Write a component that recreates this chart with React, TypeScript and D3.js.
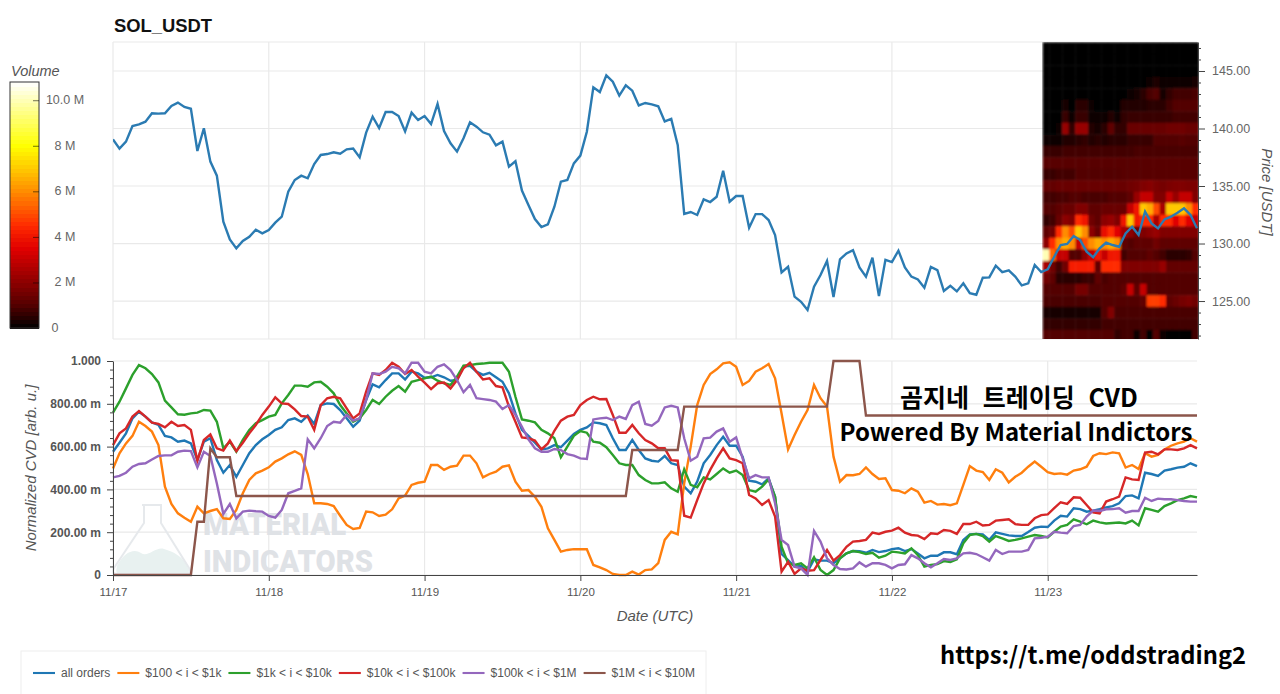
import React, { useEffect, useRef } from 'react';
import * as d3 from 'd3';

const dayTicks = [0, 24, 48, 72, 96, 120, 144];
const dayLabels = ['11/17', '11/18', '11/19', '11/20', '11/21', '11/22', '11/23'];

const priceTicks = [125, 130, 135, 140, 145];
const priceMinorTicks = [122, 123, 124, 126, 127, 128, 129, 131, 132, 133, 134, 136, 137, 138, 139, 141, 142, 143, 144, 146, 147];
const cvdTicks = [0, 200, 400, 600, 800, 1000];
const cvdMinorTicks = [40, 80, 120, 160, 240, 280, 320, 360, 440, 480, 520, 560, 640, 680, 720, 760, 840, 880, 920, 960];
const volumeTicks = [0, 2, 4, 6, 8, 10];
const volumeLabels = ['0', '2 M', '4 M', '6 M', '8 M', '10.0 M'];

const price = [
  139.06, 138.25, 138.86, 140.22, 140.36, 140.59, 141.32, 141.29, 141.32, 141.96, 142.25, 141.87,
  141.72, 138.04, 140.02, 137.12, 135.9, 131.9, 130.36, 129.58, 130.22, 130.59, 131.2, 130.88,
  131.17, 131.81, 132.33, 134.51, 135.52, 135.9, 135.67, 136.91, 137.7, 137.78, 137.93, 137.81,
  138.19, 138.25, 137.49, 139.64, 141.03, 140.04, 141.43, 141.43, 141.09, 139.75, 141.38, 140.74,
  141.09, 140.39, 142.13, 139.78, 138.71, 137.99, 139.15, 140.54, 140.16, 139.67, 139.46, 138.54,
  138.86, 136.68, 137.15, 134.6, 133.35, 132.13, 131.43, 131.67, 133.2, 135.38, 135.52, 136.97,
  137.64, 139.72, 143.58, 143.17, 144.62, 144.07, 142.86, 143.75, 143.29, 142.01, 142.22, 142.1,
  141.93, 140.62, 140.83, 138.57, 132.57, 132.74, 132.48, 133.84, 133.61, 134.07, 136.33, 133.64,
  134.13, 134.13, 131.38, 132.56, 132.56, 132.04, 130.74, 127.49, 127.98, 125.38, 124.94, 124.22,
  126.25, 127.26, 128.48, 125.35, 128.62, 129.14, 129.43, 127.93, 127.12, 128.77, 125.43, 128.59,
  128.39, 129.38, 127.93, 127.12, 126.88, 126.16, 127.96, 127.69, 125.87, 126.33, 125.84, 126.54,
  125.69, 125.55, 127.03, 127.06, 128.07, 127.52, 127.67, 127.12, 126.36, 126.54, 128.13, 127.52,
  127.75, 128.85, 129.87, 129.96, 130.65, 130.3, 129.29, 128.8, 129.58, 130.07, 129.87, 129.72,
  130.88, 131.46, 130.74, 132.77, 131.75, 131.32, 132.1, 132.33, 132.68, 133.06, 132.48, 131.32,
];

const allOrders = [
  576, 618, 662, 732, 763, 740, 713, 701, 650, 643, 623, 628, 615, 537, 623, 639, 537, 478, 514, 459, 514, 569, 607, 634,
  654, 678, 690, 724, 732, 716, 745, 706, 794, 802, 799, 771, 732, 693, 721, 818, 891, 877, 911, 942, 942, 914, 950, 942,
  922, 924, 935, 924, 908, 911, 974, 977, 950, 935, 945, 924, 903, 849, 755, 678, 650, 618, 587, 592, 607, 597, 628, 659,
  678, 690, 713, 709, 701, 639, 584, 584, 631, 584, 545, 534, 530, 556, 522, 514, 413, 382, 436, 522, 561, 607, 646, 604,
  604, 553, 441, 436, 424, 452, 366, 98, 70, 39, 42, 16, 73, 67, 67, 55, 78, 101, 112, 111, 104, 117, 107, 112,
  121, 125, 112, 121, 101, 78, 90, 90, 106, 106, 97, 164, 190, 192, 190, 164, 199, 192, 185, 182, 182, 201, 221, 226,
  224, 254, 277, 273, 312, 308, 296, 301, 308, 316, 322, 335, 369, 372, 358, 478, 472, 463, 488, 494, 502, 506, 522, 509,
];
const tier100to1k = [
  498, 569, 615, 650, 716, 696, 670, 607, 413, 332, 288, 268, 249, 319, 288, 299, 308, 265, 262, 304, 382, 444, 475, 488,
  503, 530, 545, 564, 578, 561, 472, 335, 335, 332, 322, 277, 234, 215, 220, 296, 293, 276, 282, 307, 358, 371, 421, 431,
  436, 514, 514, 491, 506, 511, 558, 558, 522, 456, 472, 483, 506, 512, 436, 394, 397, 366, 319, 218, 164, 109, 117, 121,
  120, 120, 47, 36, 23, 5, 0, 0, 16, 2, 23, 26, 55, 164, 202, 190, 428, 600, 794, 888, 939, 961, 989, 994,
  973, 888, 907, 950, 966, 986, 919, 755, 587, 654, 716, 771, 888, 826, 787, 553, 436, 467, 466, 472, 503, 472, 449, 452,
  397, 394, 382, 405, 389, 338, 346, 329, 332, 326, 335, 421, 509, 488, 481, 444, 494, 478, 433, 459, 478, 506, 530, 506,
  481, 472, 475, 469, 488, 494, 506, 556, 569, 565, 573, 569, 502, 514, 495, 569, 553, 561, 587, 604, 615, 623, 639, 623,
];
const tier1kto10k = [
  759, 810, 872, 935, 981, 966, 939, 900, 815, 783, 751, 749, 755, 759, 771, 768, 716, 592, 623, 576, 631, 678, 709, 724,
  740, 748, 802, 841, 885, 885, 880, 900, 903, 880, 849, 794, 755, 716, 732, 771, 818, 799, 833, 861, 883, 857, 903, 911,
  919, 927, 908, 896, 888, 927, 978, 981, 986, 988, 992, 992, 992, 950, 833, 727, 721, 713, 678, 662, 639, 550, 600, 650,
  673, 665, 623, 618, 597, 561, 522, 514, 514, 467, 444, 428, 428, 433, 405, 389, 494, 421, 410, 456, 447, 472, 498, 478,
  488, 467, 397, 389, 413, 447, 366, 132, 55, 47, 55, 31, 83, 23, 0, 23, 78, 101, 112, 107, 98, 104, 81, 90,
  109, 106, 101, 125, 93, 39, 47, 51, 65, 61, 73, 148, 187, 192, 182, 156, 182, 171, 159, 164, 171, 179, 187, 182,
  176, 202, 226, 234, 260, 249, 237, 254, 246, 241, 243, 245, 241, 254, 232, 312, 304, 296, 322, 335, 350, 358, 369, 363,
];
const tier10kto100k = [
  607, 662, 685, 740, 766, 740, 712, 706, 690, 716, 696, 701, 678, 534, 631, 657, 592, 581, 628, 579, 618, 662, 701, 748,
  787, 830, 802, 799, 774, 743, 740, 678, 794, 826, 833, 826, 779, 732, 755, 857, 942, 935, 958, 992, 973, 939, 958, 927,
  899, 869, 896, 899, 872, 911, 966, 992, 950, 914, 919, 883, 877, 787, 716, 643, 639, 628, 587, 615, 674, 721, 740, 748,
  794, 818, 833, 821, 822, 748, 665, 665, 701, 662, 631, 615, 592, 592, 537, 534, 277, 268, 350, 428, 491, 545, 592, 545,
  537, 522, 374, 358, 327, 350, 273, 16, 62, 5, 31, 20, 23, 70, 117, 67, 93, 132, 156, 159, 164, 198, 192, 202,
  207, 221, 198, 187, 184, 168, 195, 192, 210, 206, 192, 238, 238, 249, 231, 234, 254, 257, 260, 238, 234, 234, 265, 280,
  283, 312, 340, 332, 363, 361, 327, 293, 288, 343, 354, 366, 456, 447, 444, 572, 576, 564, 587, 587, 584, 592, 607, 592,
];
const tier100kto1M = [
  456, 463, 478, 506, 519, 522, 540, 556, 559, 559, 576, 581, 579, 503, 576, 556, 428, 285, 332, 265, 296, 301, 298, 296,
  276, 268, 304, 382, 393, 405, 634, 592, 639, 696, 716, 712, 748, 721, 732, 818, 942, 939, 950, 973, 966, 942, 992, 992,
  950, 942, 973, 984, 958, 911, 854, 888, 826, 822, 818, 810, 776, 794, 748, 693, 634, 592, 576, 576, 589, 584, 565, 558,
  545, 542, 727, 732, 735, 724, 740, 729, 794, 810, 706, 698, 720, 783, 791, 783, 639, 534, 553, 639, 642, 670, 685, 623,
  643, 545, 452, 467, 456, 456, 335, 164, 140, 39, 31, 0, 206, 156, 78, 47, 28, 26, 31, 59, 39, 55, 55, 47,
  31, 47, 50, 93, 78, 55, 36, 55, 75, 70, 78, 101, 104, 98, 83, 67, 117, 98, 109, 109, 109, 117, 171, 174,
  179, 202, 198, 195, 229, 234, 273, 301, 299, 307, 308, 312, 291, 299, 299, 361, 346, 357, 354, 354, 350, 346, 343, 343,
];
const tier1Mto10M = [
  0, 0, 0, 0, 0, 0, 0, 0, 0, 0, 0, 0, 0, 249, 249, 592, 550, 550, 550, 369, 369, 369, 369, 369,
  369, 369, 369, 369, 369, 369, 369, 369, 369, 369, 369, 369, 369, 369, 369, 369, 369, 369, 369, 369, 369, 369, 369, 369,
  369, 369, 369, 369, 369, 369, 369, 369, 369, 369, 369, 369, 369, 369, 369, 369, 369, 369, 369, 369, 369, 369, 369, 369,
  369, 369, 369, 369, 369, 369, 369, 369, 584, 584, 584, 584, 584, 584, 584, 584, 787, 787, 787, 787, 787, 787, 787, 787,
  787, 787, 787, 787, 787, 787, 787, 787, 787, 787, 787, 787, 787, 787, 787, 1000, 1000, 1000, 1000, 1000, 745, 745, 745, 745,
  745, 745, 745, 745, 745, 745, 745, 745, 745, 745, 745, 745, 745, 745, 745, 745, 745, 745, 745, 745, 745, 745, 745, 745,
  745, 745, 745, 745, 745, 745, 745, 745, 745, 745, 745, 745, 745, 745, 745, 745, 745, 745, 745, 745, 745, 745, 745, 745,
];

const seriesNames = ['all orders', '$100 < i < $1k', '$1k < i < $10k', '$10k < i < $100k', '$100k < i < $1M', '$1M < i < $10M'];
const seriesColors = ['#1f77b4', '#ff7f0e', '#2ca02c', '#d62728', '#9467bd', '#8c564b'];
const seriesValues = [allOrders, tier100to1k, tier1kto10k, tier10kto100k, tier100kto1M, tier1Mto10M];

// volume profile of the last day, one row per price bin, in millions
const heatHours = [144, 145, 146, 147, 148, 149, 150, 151, 152, 153, 154, 155, 156, 157, 158, 159, 160, 161, 162, 163, 164, 165, 166, 167];
const heatPrices = [147, 146, 145, 144, 143, 142, 141, 140, 139, 138, 137, 136, 135, 134, 133, 132, 131, 130, 129, 128, 127, 126, 125, 124, 123, 122];
const heatVolume = [
  [.05, .05, .05, .05, .05, .05, .05, .05, .05, .05, .05, .05, .05, .05, .05, .05, .05, .05, .05, .05, .05, .05, .05, .05],
  [.05, .05, .05, .05, .05, .05, .05, .05, .05, .05, .05, .05, .05, .05, .05, .05, .05, .05, .05, .05, .05, .05, .05, .05],
  [.05, .05, .05, .05, .05, .05, .05, .05, .05, .05, .05, .05, .05, .05, .05, .05, .05, .05, .05, .05, .05, .05, .05, .05],
  [.05, .05, .05, .05, .05, .05, .05, .05, .05, .05, .05, .05, .05, .05, .05, .05, .2, .35, .1, .1, .2, .2, .2, .3],
  [.05, .05, .05, .05, .05, .05, .05, .05, .05, .05, .05, .05, .05, .1, .3, .5, .9, 1, .3, .6, .8, .8, .8, .9],
  [.05, .05, .05, .3, .05, .5, .5, .1, .05, .05, .05, .05, .4, .4, .4, .4, .5, .5, .5, .8, 1, 1, 1, 1],
  [.05, .05, .05, .7, .1, .7, .7, .1, .1, .1, .4, .1, .6, .7, .7, .7, .7, .7, .7, .7, .8, .8, .8, .8],
  [.05, .05, .1, 2.2, .6, 2.2, 2.2, .4, .3, .5, 1.2, .6, .6, 1.4, 1.4, 1.4, 1.4, 1.4, 1.4, 1.5, 1.5, 1.5, 1.4, 1.4],
  [.1, .1, .1, .4, .4, .5, .6, .4, .5, .4, .5, .5, .5, .7, .7, .7, .7, 1, 1, 1, 1, 1.1, 1, 1],
  [.7, .7, .7, .8, .8, .8, .8, .8, .8, .8, .8, .8, .8, .8, .9, .9, .9, .9, .9, .9, .9, .9, .9, .9],
  [1.1, 1.1, 1.1, 1.1, 1.1, 1.1, 1.1, 1.1, 1.1, 1.1, 1.1, 1.1, 1.1, 1.1, 1.1, 1.1, 1.1, 1.1, 1.1, 1.1, 1.1, 1.1, 1.1, 1.1],
  [.7, .7, .8, .8, .8, 1, 1, 1, 1, 1, 1, 1, 1.1, 1.1, 1.1, 1.1, 1.1, 1.1, 1.1, 1.1, 1.1, 1.1, 1.1, 1.1],
  [1.3, 1.3, 1.4, 1.4, 1.4, 1.4, 1.4, 1.4, 1.4, 1.4, 1.4, 1.4, 1.4, 1.5, 1.6, 1.8, 1.9, 1.7, 1.6, 1.7, 1.8, 1.8, 1.7, 1.7],
  [.8, .8, .9, .9, 1, 1, .9, .9, .9, .9, 1, 1, 1, 1.2, 2.2, 3, 3, 1.8, 1.8, 3, 2.2, 3, 3, 1.8],
  [1, 1, 1.2, 1.4, 1.4, 1.8, 1.8, 1.2, 1.2, 1.4, 1.4, 1.4, 1.4, 3, 4, 7, 6.5, 5, 2.5, 7, 7, 7, 6, 4.5],
  [.6, .8, 1.4, 2, 1.8, 4.5, 4, 1.5, 1.2, 2, 2.2, 1.8, 4, 7, 4, 4.5, 4.5, 2.5, 4.5, 4.5, 3.5, 4.5, 3.5, 3],
  [1.2, 1.5, 4.5, 6, 5, 7, 6, 2, 1.4, 3.8, 4.5, 3.5, 2.5, 2, 1.5, 1.8, 2, 2.2, 1.8, 1.8, 1.8, 1.8, 1.8, 1.8],
  [2, 4.5, 6, 6.5, 6, 3, 5, 6, 6.5, 6, 6.5, 6, 1.2, 1, 1.2, 1.2, 1.2, 1.5, 1.2, 1.2, 1.2, 1.2, 1.2, 1.2],
  [10, 5.5, 3, 3, 1, 1, 2, 3, 4, 3, 4, 4, .8, 1, 1, 1, 1.2, 1, .8, .5, .5, .5, .6, 1],
  [2.5, 1.5, .8, 1.5, 4.2, 4.2, 4.2, 4.2, 1.2, 4.5, 4.5, 4.5, 1.8, 1.8, 1.8, 1.8, 1.8, 1.8, 2.2, 1.3, 1.3, 1.3, 1.3, 1.3],
  [1.5, 1.2, .5, .5, .5, .5, .7, .7, 1.2, .9, 1, 1, 1, 1, 1, 1, 1, 1, 1, 1, 1, 1, 1, 1],
  [1, 1, 1, 1, 1, 1.6, 1.6, 1, 1, 1, 1, 1, 1.2, 3, 1.2, 3, 1, 1, 1, 1, 1, 1, 1, 1],
  [.9, .9, .9, .9, .9, .9, .9, .9, .9, 1, 1, 1, 1, 1, 1, 1.2, 4.8, 4.8, 4.5, 1.2, 1.4, 1.6, 1.7, 1.5],
  [.3, .3, .3, .3, .3, .3, .3, .3, .3, 1, 1.8, .9, .9, .9, .9, .9, .9, .9, .9, .9, .9, .9, .9, .9],
  [.6, .6, .6, .6, .6, .6, .6, .6, .6, .8, .8, .8, .8, .8, .8, .8, .8, .8, .8, .8, .8, .8, .8, .8],
  [1, 1, 1, 1, 1, 1, 1, 1, 1, 1, 1, .6, .8, .8, .2, .8, .05, 1, .1, .05, .05, .05, .05, .8],
];

const colorStops = [0, 1, 2, 3.5, 4.5, 6, 7, 8, 9.5, 10.8];
const colorValues = ['#000000', '#520000', '#8c0000', '#e00000', '#ff2a00', '#ff8c00', '#ffc800', '#ffff00', '#ffff88', '#ffffff'];

const FONT = '"Liberation Sans", Arial, sans-serif';
const KOREAN = '"Noto Sans CJK KR", sans-serif';

const styleAxis = (g: any, textColor = '#555') => {
  g.selectAll('path').attr('stroke', '#444');
  g.selectAll('line').attr('stroke', '#444');
  g.selectAll('text').attr('fill', textColor).attr('font-size', 12.5).attr('font-family', FONT);
};

const App: React.FC = () => {
  const svgRef = useRef<SVGSVGElement>(null);

  useEffect(() => {
    if (!svgRef.current) return;
    const svg = d3.select(svgRef.current);
    svg.selectAll('*').remove();

    const left = 113;
    const right = 1197;
    const x = d3.scaleLinear().domain([0, 167]).range([left, right]);
    const yPrice = d3.scaleLinear().domain([121.7, 147.52]).range([339, 42]);
    const yCvd = d3.scaleLinear().domain([0, 1000]).range([575, 361]);
    const color = d3.scaleLinear<string>().domain(colorStops).range(colorValues).clamp(true);

    const defs = svg.append('defs');
    defs.append('clipPath').attr('id', 'price-clip').append('rect')
      .attr('x', left).attr('y', 42).attr('width', right - left + 1).attr('height', 297);
    defs.append('filter').attr('id', 'soft')
      .attr('x', 0).attr('y', 0).attr('width', 1).attr('height', 1)
      .append('feGaussianBlur').attr('stdDeviation', 0.8).attr('edgeMode', 'duplicate');

    // grid of both panels
    const grid = svg.append('g').attr('stroke', '#e9e9e9').attr('stroke-width', 1.2);
    dayTicks.forEach((d) => {
      grid.append('line').attr('x1', x(d)).attr('x2', x(d)).attr('y1', 42).attr('y2', 339);
      grid.append('line').attr('x1', x(d)).attr('x2', x(d)).attr('y1', 361).attr('y2', 575);
    });
    [...priceTicks, 147.52, 121.7].forEach((p) => {
      grid.append('line').attr('x1', left).attr('x2', right).attr('y1', yPrice(p)).attr('y2', yPrice(p));
    });
    cvdTicks.forEach((v) => {
      grid.append('line').attr('x1', left).attr('x2', right).attr('y1', yCvd(v)).attr('y2', yCvd(v));
    });

    // heatmap
    const heatClip = svg.append('g').attr('clip-path', 'url(#price-clip)');
    const heat = heatClip.append('g').attr('filter', 'url(#soft)');
    heatPrices.forEach((p, r) => {
      heatHours.forEach((h, c) => {
        heat.append('rect')
          .attr('x', x(h - 0.77))
          .attr('width', x(h + 0.23) - x(h - 0.77) + 0.5)
          .attr('y', yPrice(p + 0.5))
          .attr('height', yPrice(p - 0.5) - yPrice(p + 0.5) + 0.5)
          .attr('fill', color(heatVolume[r][c]));
      });
    });

    // watermark sits under the cvd lines
    const mark = svg.append('g');
    mark.append('path')
      .attr('d', 'M117 566 C124 552 134 548 141 553 C148 558 156 546 164 549 C174 552 182 556 187 566 L189 570 Q189 574 185 574 L119 574 Q115 574 117 566 Z')
      .attr('fill', '#e8f1f0');
    mark.append('path')
      .attr('d', 'M142 505 L162 505 M144 505 L144 523 L114 568 Q111 574 118 574 L186 574 Q192 574 189 568 L161 523 L161 505')
      .attr('fill', 'none').attr('stroke', '#e6e9ec').attr('stroke-width', 2);
    mark.append('text').attr('x', 203).attr('y', 535)
      .attr('font-family', 'Roboto').attr('font-weight', 900).attr('font-size', 32)
      .attr('fill', '#dfe2e6').attr('textLength', 143).attr('lengthAdjust', 'spacingAndGlyphs').text('MATERIAL');
    mark.append('text').attr('x', 203).attr('y', 572)
      .attr('font-family', 'Roboto').attr('font-weight', 900).attr('font-size', 32)
      .attr('fill', '#dfe2e6').attr('textLength', 170).attr('lengthAdjust', 'spacingAndGlyphs').text('INDICATORS');

    // price line
    const priceLine = d3.line<number>().x((_, i) => x(i)).y((d) => yPrice(d));
    svg.append('path').datum(price)
      .attr('clip-path', 'url(#price-clip)')
      .attr('d', priceLine).attr('fill', 'none').attr('stroke', '#2b7bb2').attr('stroke-width', 2.4);

    // cvd lines
    const cvdLine = d3.line<number>().x((_, i) => x(i)).y((d) => yCvd(d));
    seriesValues.forEach((values, i) => {
      svg.append('path').datum(values)
        .attr('d', cvdLine).attr('fill', 'none')
        .attr('stroke', seriesColors[i]).attr('stroke-width', 2.4);
    });

    // axes
    const fmtPrice = (d: any) => d3.format('.2f')(d);
    const priceAxis = svg.append('g').attr('transform', `translate(${right + 1},0)`)
      .call(d3.axisRight(yPrice).tickValues(priceTicks).tickFormat(fmtPrice).tickSize(7).tickSizeOuter(0).tickPadding(7));
    styleAxis(priceAxis, '#666');
    const priceMinor = svg.append('g').attr('transform', `translate(${right + 1},0)`)
      .call(d3.axisRight(yPrice).tickValues(priceMinorTicks).tickFormat(() => '').tickSize(3).tickSizeOuter(0));
    styleAxis(priceMinor);
    priceMinor.select('path').remove();

    const fmtCvd = (d: any) => (d === 1000 ? '1.000' : d === 0 ? '0' : `${d3.format('.2f')(d)} m`);
    const cvdAxis = svg.append('g').attr('transform', `translate(${left},0)`)
      .call(d3.axisLeft(yCvd).tickValues(cvdTicks).tickFormat(fmtCvd).tickSize(6).tickSizeOuter(0).tickPadding(6));
    styleAxis(cvdAxis);
    cvdAxis.selectAll('text').attr('font-size', 12).attr('font-weight', 600);
    const cvdMinor = svg.append('g').attr('transform', `translate(${left},0)`)
      .call(d3.axisLeft(yCvd).tickValues(cvdMinorTicks).tickFormat(() => '').tickSize(3).tickSizeOuter(0));
    styleAxis(cvdMinor);
    cvdMinor.select('path').remove();

    const dateAxis = svg.append('g').attr('transform', 'translate(0,575)')
      .call(d3.axisBottom(x).tickValues(dayTicks).tickFormat((_, i) => dayLabels[i]).tickSize(6).tickSizeOuter(0).tickPadding(7));
    styleAxis(dateAxis);
    dateAxis.selectAll('text').attr('font-size', 11.5);

    const axisLabel = (txt: string, px: number, py: number, rotate = 0) =>
      svg.append('text').attr('transform', `translate(${px},${py}) rotate(${rotate})`)
        .attr('text-anchor', 'middle').attr('font-family', FONT).attr('font-style', 'italic')
        .attr('font-size', 15).attr('fill', '#555').text(txt);
    axisLabel('Date (UTC)', 655, 621);
    axisLabel('Normalized CVD [arb. u.]', 36, 468, -90);
    axisLabel('Price [USDT]', 1262, 192, 90);

    svg.append('text').attr('x', 114).attr('y', 32)
      .attr('font-family', FONT).attr('font-weight', 700).attr('font-size', 18.4).attr('fill', '#111').text('SOL_USDT');

    // colour bar
    const yBar = d3.scaleLinear().domain([0, 10.8]).range([328, 82]);
    const barSteps = d3.range(0, 10.8, 0.18);
    svg.append('g').attr('shape-rendering', 'crispEdges').selectAll('rect').data(barSteps).join('rect')
      .attr('x', 10).attr('width', 29)
      .attr('y', (d) => yBar(d + 0.18)).attr('height', (d) => yBar(d) - yBar(d + 0.18) + 0.5)
      .attr('fill', (d) => color(d + 0.09));
    svg.append('rect').attr('x', 10).attr('y', 82).attr('width', 29).attr('height', 246)
      .attr('fill', 'none').attr('stroke', '#333').attr('stroke-width', 1);
    const barAxis = svg.append('g').attr('transform', 'translate(39,0)')
      .call(d3.axisLeft(yBar).tickValues(volumeTicks.slice(1)).tickFormat(() => '').tickSize(6).tickSizeOuter(0));
    barAxis.select('path').remove();
    barAxis.selectAll('line').attr('stroke', '#000').attr('stroke-opacity', 0.55);
    volumeTicks.forEach((v, i) => {
      svg.append('text').attr('x', v === 0 ? 55 : 65).attr('y', yBar(v) + 4)
        .attr('text-anchor', 'middle').attr('font-family', FONT).attr('font-size', 12.5)
        .attr('fill', '#666').text(volumeLabels[i]);
    });
    svg.append('text').attr('x', 11).attr('y', 76).attr('font-family', FONT)
      .attr('font-style', 'italic').attr('font-size', 14.5).attr('fill', '#555').text('Volume');

    // legend
    svg.append('rect').attr('x', 21).attr('y', 651).attr('width', 685).attr('height', 60)
      .attr('fill', '#fff').attr('stroke', '#eee');
    let lx = 33;
    const measure = svg.append('text').attr('font-family', FONT).attr('font-size', 12);
    seriesNames.forEach((name, i) => {
      svg.append('line').attr('x1', lx).attr('x2', lx + 22).attr('y1', 673).attr('y2', 673)
        .attr('stroke', seriesColors[i]).attr('stroke-width', 2.1);
      svg.append('text').attr('x', lx + 28).attr('y', 677).attr('font-family', FONT)
        .attr('font-size', 12).attr('fill', '#555').text(name);
      measure.text(name);
      lx += 28 + (measure.node() as SVGTextElement).getComputedTextLength() + 7;
    });
    measure.remove();

    // overlay captions
    svg.append('text').attr('x', 1019).attr('y', 407).attr('text-anchor', 'middle')
      .attr('font-family', KOREAN).attr('font-weight', 700).attr('font-size', 25).attr('word-spacing', 8).attr('fill', '#000')
      .text('곰지네 트레이딩 CVD');
    svg.append('text').attr('x', 1016).attr('y', 441).attr('text-anchor', 'middle')
      .attr('font-family', KOREAN).attr('font-weight', 700).attr('font-size', 24).attr('fill', '#000')
      .text('Powered By Material Indictors');
    svg.append('text').attr('x', 1093).attr('y', 664).attr('text-anchor', 'middle')
      .attr('font-family', KOREAN).attr('font-weight', 700).attr('font-size', 23.7).attr('fill', '#000')
      .text('https://t.me/oddstrading2');
  }, []);

  return <svg ref={svgRef} width={1280} height={694} style={{ position: 'absolute', left: 0, top: 0, background: '#fff' }} />;
};

export default App;
